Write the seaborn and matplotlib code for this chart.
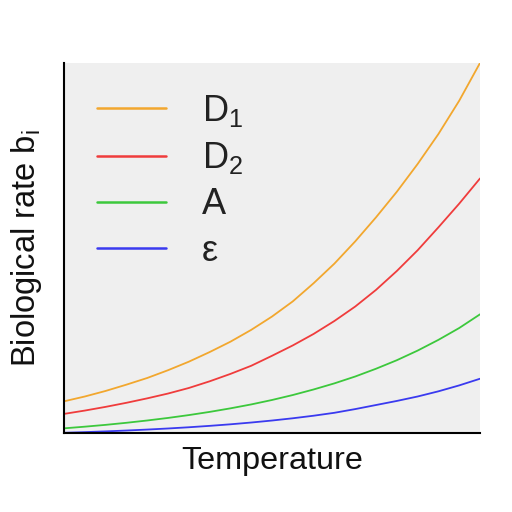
import matplotlib
matplotlib.use("Agg")
import matplotlib.pyplot as plt
import seaborn as sns
import pandas as pd

temperature = [0.00, 0.05, 0.10, 0.15, 0.20, 0.25, 0.30, 0.35, 0.40, 0.45, 0.50,
               0.55, 0.60, 0.65, 0.70, 0.75, 0.80, 0.85, 0.90, 0.95, 1.00]
rate_D1 = [0.086, 0.099, 0.114, 0.131, 0.149, 0.170, 0.193, 0.219, 0.247, 0.279, 0.315,
           0.356, 0.405, 0.458, 0.518, 0.583, 0.652, 0.727, 0.808, 0.898, 1.000]
rate_D2 = [0.052, 0.061, 0.071, 0.082, 0.094, 0.107, 0.122, 0.140, 0.160, 0.182, 0.209,
           0.237, 0.268, 0.303, 0.342, 0.387, 0.438, 0.494, 0.556, 0.620, 0.688]
rate_A = [0.013, 0.0175, 0.0224, 0.028, 0.0342, 0.0411, 0.0488, 0.0574, 0.067, 0.0776, 0.0896,
          0.103, 0.118, 0.1345, 0.153, 0.174, 0.197, 0.223, 0.252, 0.284, 0.321]
rate_eps = [0.001, 0.0028, 0.0048, 0.0071, 0.0097, 0.0126, 0.0159, 0.0197, 0.0239, 0.0287, 0.0341,
            0.0402, 0.0471, 0.055, 0.065, 0.076, 0.087, 0.099, 0.113, 0.129, 0.147]

series_labels = [r"D$\mathregular{_1}$", r"D$\mathregular{_2}$", "A", "ε"]
series_colors = ["#f2a72e", "#ef3c3c", "#3cc83c", "#3a3aef"]

rows = []
for lab, vals in zip(series_labels, [rate_D1, rate_D2, rate_A, rate_eps]):
    for t, v in zip(temperature, vals):
        rows.append({"Temperature": t, "rate": v, "series": lab})
df = pd.DataFrame(rows)

sns.set_style("white")
plt.rcParams["font.family"] = ["Liberation Sans", "DejaVu Sans"]

fig = plt.figure(figsize=(5.12, 5.12), dpi=100)
ax = fig.add_axes([0.125, 0.154, 0.8125, 0.723])
ax.set_facecolor("#efefef")

sns.lineplot(data=df, x="Temperature", y="rate", hue="series",
             palette=dict(zip(series_labels, series_colors)),
             hue_order=series_labels, linewidth=1.3, ax=ax)

ax.set_xlim(0, 1)
ax.set_ylim(0, 1)
ax.set_xticks([])
ax.set_yticks([])
for s in ["top", "right"]:
    ax.spines[s].set_visible(False)
for s in ["left", "bottom"]:
    ax.spines[s].set_color("black")
    ax.spines[s].set_linewidth(1.5)

ax.set_xlabel("Temperature", fontsize=23.3, color="#111111", labelpad=9.5)
ax.set_ylabel(r"Biological rate b$\mathregular{_i}$", fontsize=23.5, color="#111111", labelpad=14.5)

leg = ax.legend(loc="upper left", frameon=False, fontsize=26,
                handlelength=1.9, handletextpad=1.0, labelspacing=0.31,
                borderaxespad=0.0, bbox_to_anchor=(0.045, 0.958))
for line in leg.get_lines():
    line.set_linewidth(1.8)
for t in leg.get_texts():
    t.set_color("#222222")

fig.savefig("out.png", dpi=100, facecolor="white")
